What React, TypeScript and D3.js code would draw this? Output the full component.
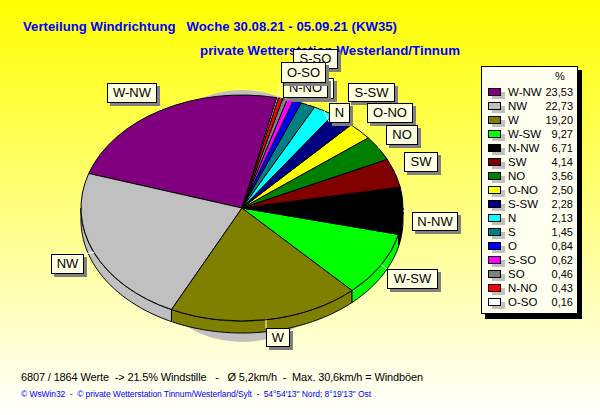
import * as d3 from 'd3'

const directions = ['W-NW', 'NW', 'W', 'W-SW', 'N-NW', 'SW', 'NO', 'O-NO', 'S-SW', 'N', 'S', 'O', 'S-SO', 'SO', 'N-NO', 'O-SO']
const percents = [23.53, 22.73, 19.2, 9.27, 6.71, 4.14, 3.56, 2.5, 2.28, 2.13, 1.45, 0.84, 0.62, 0.46, 0.43, 0.16]
const percentLabels = ['23,53', '22,73', '19,20', '9,27', '6,71', '4,14', '3,56', '2,50', '2,28', '2,13', '1,45', '0,84', '0,62', '0,46', '0,43', '0,16']
const colors = ['#800080', '#c0c0c0', '#808000', '#00ff00', '#000000', '#800000', '#008000', '#ffff00', '#000080', '#00ffff', '#008080', '#0000ff', '#ff00ff', '#808080', '#ff0000', '#ffffff']

const titleLine1 = 'Verteilung Windrichtung   Woche 30.08.21 - 05.09.21 (KW35)'
const titleLine2 = 'private Wetterstation Westerland/Tinnum'
const footerLine1 = '6807 / 1864 Werte  -> 21.5% Windstille   -   Ø 5,2km/h  -  Max. 30,6km/h = Windböen'
const footerLine2 = '© WsWin32  -  © private Wetterstation Tinnum/Westerland/Sylt  -  54°54\'13\'\' Nord; 8°19\'13\'\' Ost'

const width = 600
const height = 415
const cx = 242
const cy = 208
const rx = 161
const ry = 113
const depth = 12
const startDeg = 12.5

// label boxes, in paint order: name, x, y, w, h, leader end x, leader end y
const labelBoxes: [string, number, number, number, number, number, number][] = [
  ['W-NW', 107, 83, 49, 19, 156, 102],
  ['S-SW', 348, 83, 46, 18, 348, 101],
  ['N', 329, 103, 20, 19, 329, 122],
  ['O-NO', 367, 103, 45, 19, 367, 122],
  ['NO', 386, 125, 31, 19, 386, 144],
  ['SW', 404, 152, 33, 19, 404, 171],
  ['N-NW', 412, 212, 45, 18, 412, 212],
  ['W-SW', 387, 269, 50, 19, 387, 269],
  ['W', 266, 328, 23, 18, 266, 328],
  ['NW', 51, 254, 32, 19, 83, 254],
  ['S', 300, 78, 20, 19, 310, 97],
  ['O', 300, 78, 20, 19, 300, 97],
  ['SO', 289, 78, 44, 20, 300, 98],
  ['S-SO', 293, 49, 44, 19, 293, 68],
  ['N-NO', 283, 78, 44, 19, 283, 97],
  ['O-SO', 281, 62, 44, 20, 281, 82],
]
// stacked behind other boxes in the picture: only the leader shows
const leaderOnly = ['S', 'O']
// box edge shows, its text is covered
const noText = ['SO']

const pieLayout = d3
  .pie<number>()
  .sort(null)
  .startAngle((startDeg * Math.PI) / 180)
  .endAngle((startDeg * Math.PI) / 180 - 2 * Math.PI)
const slices = pieLayout(percents)

const sliceArc = d3.arc<d3.PieArcDatum<number>>().innerRadius(0).outerRadius(rx)

const rimX = (a: number) => cx + rx * Math.sin(a)
const rimY = (a: number) => cy - ry * Math.cos(a)

const wallArea = d3
  .area<number>()
  .x((a) => rimX(a))
  .y0((a) => rimY(a))
  .y1((a) => rimY(a) + depth)

// front part of a slice's rim, angles taken clockwise from the top
const wallPath = (s: d3.PieArcDatum<number>) => {
  const turn = 2 * Math.PI
  let hi = s.startAngle
  let lo = s.endAngle
  while (lo < 0) {
    lo += turn
    hi += turn
  }
  const a0 = Math.max(lo, Math.PI / 2)
  const a1 = Math.min(hi, (3 * Math.PI) / 2)
  if (a1 <= a0) return null
  const steps = d3.range(a0, a1, 0.02).concat([a1])
  return wallArea(steps)
}

const App = () => {
  const yPos = d3.scalePoint<string>().domain(directions).range([92, 302])

  return (
    <svg
      width={width}
      height={height}
      viewBox={`0 0 ${width} ${height}`}
      style={{ position: 'absolute', left: 0, top: 0 }}
      fontFamily="'Liberation Sans', Arial, sans-serif"
    >
      <defs>
        <linearGradient id="bg" x1="0" y1="0" x2="0" y2="1">
          <stop offset="0" stopColor="#ffff00" />
          <stop offset="1" stopColor="#ffffff" />
        </linearGradient>
      </defs>
      <rect width={width} height={height} fill="url(#bg)" />

      <text x={23} y={31} fontSize={13.2} fontWeight="bold" fill="#0000ff" xmlSpace="preserve" textLength={374}>
        {titleLine1}
      </text>
      <text x={200} y={55} fontSize={13.3} fontWeight="bold" fill="#0000ff" textLength={260}>
        {titleLine2}
      </text>

      {/* pie shadow */}
      <ellipse cx={cx} cy={216} rx={115} ry={126} fill="#c0c0c0" />

      {slices.map((s, i) => {
        const d = wallPath(s)
        return d ? <path key={i} d={d} fill={colors[i]} stroke="#000" strokeWidth={1} /> : null
      })}
      <g transform={`translate(${cx},${cy}) scale(1,${ry / rx})`}>
        {slices.map((s, i) => (
          <path
            key={i}
            d={sliceArc(s) as string}
            fill={colors[i]}
            stroke="#000"
            strokeWidth={1}
            vectorEffect="non-scaling-stroke"
          />
        ))}
      </g>

      {/* leader lines and label boxes */}
      {labelBoxes.map(([name, , , , , ex, ey]) => {
        const s = slices[directions.indexOf(name)]
        const mid = (s.startAngle + s.endAngle) / 2
        return <line key={name} x1={rimX(mid)} y1={rimY(mid)} x2={ex} y2={ey} stroke="#fff" strokeWidth={1} />
      })}
      {labelBoxes
        .filter(([name]) => !leaderOnly.includes(name))
        .map(([name, x, y, w, h]) => (
          <g key={name}>
            <rect x={x + 3} y={y + 3} width={w + 1} height={h + 1} fill="#808080" shapeRendering="crispEdges" />
            <rect x={x + 0.5} y={y + 0.5} width={w} height={h} fill="#ffffe1" stroke="#000" shapeRendering="crispEdges" />
            {!noText.includes(name) && (
              <text x={x + w / 2 + 0.5} y={y + h / 2 + 4.5} fontSize={13} textAnchor="middle" fill="#000">
                {name}
              </text>
            )}
          </g>
        ))}

      {/* legend */}
      <rect x={485} y={70} width={97} height={249} fill="#000" shapeRendering="crispEdges" />
      <rect x={481.5} y={66.5} width={96} height={247} fill="#fffff0" stroke="#000" shapeRendering="crispEdges" />
      <text x={560} y={80} fontSize={11} textAnchor="middle" fill="#000">%</text>
      {directions.map((name, i) => {
        const y = yPos(name) as number
        return (
          <g key={name}>
            <rect x={492} y={y} width={13} height={7} fill="#c0c0c0" shapeRendering="crispEdges" />
            <rect x={488.5} y={y - 3.5} width={12} height={7} fill={colors[i]} stroke="#000" shapeRendering="crispEdges" />
            <text x={508} y={y + 4} fontSize={11.5} fill="#000">{name}</text>
            <text x={573} y={y + 4} fontSize={11} textAnchor="end" fill="#000">{percentLabels[i]}</text>
          </g>
        )
      })}

      <text x={21} y={381} fontSize={11} fill="#000" xmlSpace="preserve" textLength={402}>
        {footerLine1}
      </text>
      <text x={21} y={397} fontSize={8.5} fill="#0000ff" xmlSpace="preserve" textLength={350}>
        {footerLine2}
      </text>
    </svg>
  )
}

export default App
